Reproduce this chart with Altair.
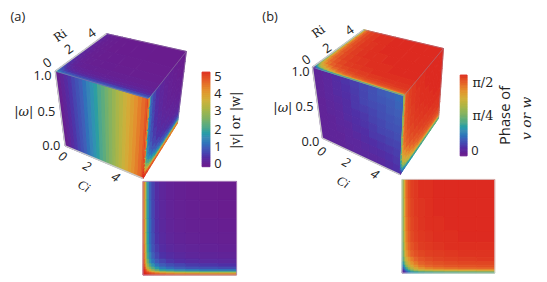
import altair as alt
import pandas as pd

# colour map (value stops on |v| scale and colours)
STOPS = [0, .5, 1, 1.5, 2, 2.5, 3, 3.5, 4, 4.5, 5]
COLORS = ["#6b1a8c", "#4f2fa6", "#3f5fb8", "#3f8bb5", "#4ea78c", "#7fb165",
          "#a9b548", "#d1b03b", "#e3912f", "#e5602a", "#dd2a20"]
PHASE_MAX = 1.5708
PHASE_STOPS = [s * PHASE_MAX / 5 for s in STOPS]

# non-uniform cell edges (fractions of a panel side)
EDGE_INSET = [0, .012, .025, .04, .06, .085, .12, .17, .24, .33, .45, .6, .8, 1]
EDGE_RIGHT_X = [0, .006, .012, .025, .05, .11, .19, .3, .42, .54, .66, .78, .9, 1]
EDGE_RIGHT_Y = [0, .015, .03, .05, .08, .12, .17, .24, .34, .46, .58, .72, .86, 1]
EDGE_TOPB_X = [0, .008, .02, .035, .06, .1, .15, .22, .3, .4, .52, .67, .83, 1]
EDGE_TOPB_Y = [0, .006, .014, .025, .04, .06, .09, .13, .2, .3, .45, .62, .8, 1]
EDGE_TOPA = [0, .02, .05, .09, .14, .2, .3, .45, .65, 1]
EDGE_TEN = [0, .1, .2, .3, .4, .5, .6, .7, .8, .9, 1]

INSET_A = [
 [5,5,5,4.9,4.8,4.7,4.6,4.5,4.4,4.3,4.3,4.2,4.2],
 [5,5,4.9,4.8,4.6,4.4,4.1,3.8,3.6,3.4,3.3,3.2,3.2],
 [5,4.9,4.7,4.4,4.0,3.6,3.2,2.8,2.5,2.3,2.2,2.1,2.1],
 [5,4.8,4.4,3.8,3.2,2.7,2.2,1.8,1.6,1.4,1.3,1.2,1.2],
 [4.9,4.5,3.8,3.1,2.6,2.1,1.7,1.3,1.1,.95,.85,.8,.75],
 [4.8,4.2,3.3,2.6,2.0,1.6,1.2,.95,.8,.7,.6,.55,.5],
 [4.7,3.9,2.9,2.2,1.6,1.2,.9,.7,.55,.45,.4,.35,.32],
 [4.6,3.7,2.7,1.9,1.4,1.0,.7,.52,.42,.34,.28,.25,.22],
 [4.5,3.6,2.5,1.8,1.2,.85,.6,.42,.32,.26,.22,.18,.16],
 [4.4,3.5,2.4,1.7,1.1,.8,.52,.36,.26,.2,.17,.14,.12],
 [4.4,3.5,2.4,1.6,1.1,.75,.48,.32,.22,.17,.13,.11,.09],
 [4.3,3.4,2.3,1.6,1.05,.7,.45,.3,.2,.15,.11,.08,.06],
 [4.3,3.4,2.3,1.55,1.0,.68,.43,.28,.18,.13,.09,.06,.04],
]
TOP_A = [
 [1.6,1.3,1.1,1.0,.95,.9,.9,.95,1.0],
 [1.3,1.0,.85,.75,.7,.65,.65,.7,.7],
 [1.0,.8,.6,.5,.45,.42,.42,.42,.42],
 [.85,.6,.42,.32,.28,.25,.25,.25,.25],
 [.7,.48,.32,.23,.2,.18,.16,.16,.16],
 [.55,.38,.25,.18,.15,.13,.12,.12,.12],
 [.45,.3,.2,.15,.12,.1,.09,.08,.08],
 [.35,.25,.16,.12,.1,.08,.07,.06,.06],
 [.3,.2,.14,.1,.08,.06,.05,.05,.04],
]
LEFT_A = [[.1,.25,.4,.55,.7,.85,1.0,1.2,1.4,1.6,1.8,2.0,2.2,2.4,2.6,2.8,3.0,
           3.2,3.4,3.6,3.8,4.0,4.2,4.4,4.6,4.8]]
EDGE_LEFT_A = [0,.04,.08,.12,.16,.2,.24,.28,.32,.36,.4,.44,.48,.52,.56,.6,.64,
               .68,.72,.76,.8,.84,.88,.92,.96,.98,1]
EDGE_ONE = [0, 1]

INSET_B = [
 [.08,.12,.2,.3,.42,.5,.55,.6,.62,.65,.68,.7,.72],
 [.12,.2,.3,.42,.55,.7,.85,.95,1.0,1.05,1.08,1.1,1.12],
 [.2,.3,.42,.55,.72,.88,1.02,1.12,1.18,1.22,1.25,1.27,1.28],
 [.3,.42,.55,.7,.88,1.02,1.15,1.26,1.32,1.36,1.38,1.4,1.41],
 [.42,.55,.72,.88,1.02,1.14,1.26,1.35,1.4,1.43,1.45,1.46,1.47],
 [.55,.7,.88,1.02,1.14,1.25,1.34,1.41,1.45,1.47,1.49,1.5,1.5],
 [.65,.85,1.02,1.15,1.24,1.33,1.41,1.46,1.49,1.51,1.52,1.53,1.54],
 [.72,.95,1.14,1.26,1.35,1.42,1.47,1.5,1.52,1.53,1.54,1.55,1.55],
 [.75,1.0,1.2,1.32,1.4,1.46,1.5,1.53,1.54,1.55,1.56,1.56,1.56],
 [.78,1.05,1.24,1.36,1.43,1.49,1.52,1.54,1.55,1.56,1.56,1.57,1.57],
 [.8,1.08,1.27,1.38,1.45,1.5,1.53,1.55,1.56,1.56,1.57,1.57,1.57],
 [.82,1.1,1.29,1.4,1.47,1.51,1.54,1.55,1.56,1.57,1.57,1.57,1.57],
 [.85,1.12,1.3,1.41,1.48,1.52,1.54,1.56,1.56,1.57,1.57,1.57,1.57],
]
LEFT_B = [
 [.07,.08,.08,.09,.1,.1,.11,.12,.14,.16],
 [.07,.08,.08,.1,.1,.12,.13,.14,.16,.18],
 [.07,.08,.09,.1,.12,.14,.15,.17,.18,.2],
 [.07,.08,.1,.11,.14,.15,.18,.19,.21,.22],
 [.07,.09,.1,.13,.15,.17,.19,.22,.23,.25],
 [.07,.09,.11,.14,.16,.18,.21,.23,.26,.27],
 [.08,.1,.12,.14,.18,.2,.22,.25,.27,.29],
 [.08,.1,.13,.15,.18,.22,.24,.26,.29,.31],
 [.08,.1,.13,.16,.19,.22,.26,.28,.3,.33],
 [.08,.1,.14,.17,.2,.23,.26,.3,.32,.35],
]

# cube corners in page pixels: A top-left, B back, C right, D front top,
# E front bottom, F left bottom, G right bottom
CUBE_A = dict(A=(56,70), B=(108,32), C=(189,50), D=(151,98), E=(145,179), F=(66,146), G=(180,123))
CUBE_B = dict(A=(317,66), B=(369,28), C=(450,47), D=(410,95), E=(406,175), F=(327,138), G=(445,118))
INSET_BOX_A = dict(bl=(145,277), br=(240,277), tr=(240,182), tl=(145,182))
INSET_BOX_B = dict(bl=(408,275), br=(502,275), tr=(502,180), tl=(408,180))
BAR_BOX_A = dict(bl=(205,167), br=(213,167), tr=(213,71), tl=(205,71))
BAR_BOX_B = dict(bl=(467,156), br=(474,156), tr=(474,74), tl=(467,74))
BAR_STEPS = 48

# text: label, x, y, angle, size, font, style
TEXTS = [
 ("(a)", 18, 15, 0, 13, "Open Sans", "normal"),
 ("(b)", 274, 15, 0, 13, "Open Sans", "normal"),
 ("0", 48, 62, 325, 13, "Open Sans", "normal"),
 ("2", 70, 48, 325, 13, "Open Sans", "normal"),
 ("4", 93, 32, 325, 13, "Open Sans", "normal"),
 ("Ri", 61, 34, 325, 12, "DejaVu Serif", "normal"),
 ("1.0", 43, 75, 0, 13, "Open Sans", "normal"),
 ("0.5", 47, 112, 0, 13, "Open Sans", "normal"),
 ("0.0", 52, 146, 0, 13, "Open Sans", "normal"),
 ("|ω|", 24, 112, 0, 13, "DejaVu Serif", "italic"),
 ("0", 63, 157, 30, 13, "Open Sans", "italic"),
 ("2", 88, 167, 30, 13, "Open Sans", "italic"),
 ("4", 117, 178, 30, 13, "Open Sans", "italic"),
 ("Ci", 85, 187, 30, 13, "Liberation Serif", "italic"),
 ("5", 221, 76, 0, 13, "Open Sans", "normal"),
 ("4", 221, 93, 0, 13, "Open Sans", "normal"),
 ("3", 221, 111, 0, 13, "Open Sans", "normal"),
 ("2", 221, 130, 0, 13, "Open Sans", "normal"),
 ("1", 221, 147, 0, 13, "Open Sans", "normal"),
 ("0", 221, 164, 0, 13, "Open Sans", "normal"),
 ("|v| or |w|", 240, 120, 270, 13, "DejaVu Serif", "normal"),
 ("0", 311, 59, 325, 13, "Open Sans", "normal"),
 ("2", 332, 47, 325, 13, "Open Sans", "normal"),
 ("4", 355, 29, 325, 13, "Open Sans", "normal"),
 ("Ri", 323, 30, 325, 12, "DejaVu Serif", "normal"),
 ("1.0", 305, 71, 0, 13, "Open Sans", "normal"),
 ("0.5", 309, 106, 0, 13, "Open Sans", "normal"),
 ("0.0", 315, 142, 0, 13, "Open Sans", "normal"),
 ("|ω|", 287, 108, 0, 13, "DejaVu Serif", "italic"),
 ("0", 326, 152, 30, 13, "Open Sans", "italic"),
 ("2", 351, 163, 30, 13, "Open Sans", "italic"),
 ("4", 380, 175, 30, 13, "Open Sans", "italic"),
 ("Ci", 348, 183, 30, 13, "Liberation Serif", "italic"),
 ("π/2", 490, 82, 0, 13, "DejaVu Serif", "normal"),
 ("π/4", 490, 116, 0, 13, "DejaVu Serif", "normal"),
 ("0", 482, 151, 0, 13, "Open Sans", "normal"),
 ("Phase of", 513, 115, 270, 15, "Open Sans", "normal"),
 ("v or w", 535, 118, 270, 14, "DejaVu Serif", "italic"),
]


def bilinear(q, u, v):
    """q = (origin, u-end, far, v-end); maps fractions to a quadrilateral."""
    o, a, c, b = q
    return [
        (1-u)*(1-v)*o[i] + u*(1-v)*a[i] + u*v*c[i] + (1-u)*v*b[i]
        for i in (0, 1)
    ]


def cells(table, xe, ye, quad):
    out = []
    # far cells first so the thin cells at the near edges stay on top
    for r in range(len(table) - 1, -1, -1):
        row = table[r]
        for c in range(len(row) - 1, -1, -1):
            ring = [bilinear(quad, xe[c], ye[r]), bilinear(quad, xe[c+1], ye[r]),
                    bilinear(quad, xe[c+1], ye[r+1]), bilinear(quad, xe[c], ye[r+1])]
            ring.append(ring[0])
            out.append({"type": "Feature", "properties": {}, "v": row[c],
                        "geometry": {"type": "Polygon", "coordinates": [ring]}})
    return out


def bar(box, top):
    ye = [i / BAR_STEPS for i in range(BAR_STEPS + 1)]
    table = [[top * (i + .5) / BAR_STEPS] for i in range(BAR_STEPS)]
    return cells(table, EDGE_ONE, ye, (box["bl"], box["br"], box["tr"], box["tl"]))


a, b = CUBE_A, CUBE_B
ia, ib = INSET_BOX_A, INSET_BOX_B
feat_a = (cells(LEFT_A, EDGE_LEFT_A, EDGE_ONE, (a["F"], a["E"], a["D"], a["A"]))
          + cells(TOP_A, EDGE_TOPA, EDGE_TOPA, (a["A"], a["D"], a["C"], a["B"]))
          + cells(INSET_A, EDGE_RIGHT_X, EDGE_RIGHT_Y, (a["E"], a["G"], a["C"], a["D"]))
          + cells(INSET_A, EDGE_INSET, EDGE_INSET, (ia["bl"], ia["br"], ia["tr"], ia["tl"]))
          + bar(BAR_BOX_A, 5))
feat_b = (cells(LEFT_B, EDGE_TEN, EDGE_TEN, (b["F"], b["E"], b["D"], b["A"]))
          + cells(INSET_B, EDGE_TOPB_X, EDGE_TOPB_Y, (b["A"], b["D"], b["C"], b["B"]))
          + cells(INSET_B, EDGE_RIGHT_X, EDGE_RIGHT_Y, (b["E"], b["G"], b["C"], b["D"]))
          + cells(INSET_B, EDGE_INSET, EDGE_INSET, (ib["bl"], ib["br"], ib["tr"], ib["tl"]))
          + bar(BAR_BOX_B, PHASE_MAX))


def heat(features, stops):
    sc = alt.Scale(domain=stops, range=COLORS)
    return alt.Chart(alt.Data(values=features)).mark_geoshape(strokeWidth=1, opacity=1).encode(
        color=alt.Color("v:Q", scale=sc, legend=None),
        stroke=alt.Stroke("v:Q", scale=sc, legend=None),
    ).project(type="identity", scale=1, translate=[-8, -8])


edges = []
for cube in (a, b):
    for p, q in (("A","F"), ("F","E"), ("A","B")):
        edges.append(dict(x=cube[p][0], y=cube[p][1], x2=cube[q][0], y2=cube[q][1], c="#c8c8c8", w=1.4))
    for p, q in (("A","D"), ("D","C"), ("B","C"), ("C","G")):
        edges.append(dict(x=cube[p][0], y=cube[p][1], x2=cube[q][0], y2=cube[q][1], c="#9a8fa5", w=0.5))
for box, col in ((ia, "#b48fc0"), (ib, "#d4d4d4")):
    pts = [box["bl"], box["br"], box["tr"], box["tl"], box["bl"]]
    for p, q in zip(pts, pts[1:]):
        edges.append(dict(x=p[0], y=p[1], x2=q[0], y2=q[1], c=col, w=0.8))

xs = alt.Scale(domain=[8, 547], range=[0, 539])
ys = alt.Scale(domain=[8, 282], range=[0, 274])
edge_layer = alt.Chart(pd.DataFrame(edges)).mark_rule().encode(
    x=alt.X("x:Q", scale=xs, axis=None), y=alt.Y("y:Q", scale=ys, axis=None),
    x2="x2:Q", y2="y2:Q",
    color=alt.Color("c:N", scale=None, legend=None),
    strokeWidth=alt.StrokeWidth("w:Q", scale=None, legend=None),
)

text_layers = []
tdf = pd.DataFrame(TEXTS, columns=["t", "x", "y", "ang", "size", "font", "style"])
for (ang, size, font, style), g in tdf.groupby(["ang", "size", "font", "style"]):
    text_layers.append(
        alt.Chart(g).mark_text(angle=int(ang), fontSize=int(size), font=font, fontStyle=style,
                               color="#222222", align="center", baseline="middle").encode(
            x=alt.X("x:Q", scale=xs, axis=None), y=alt.Y("y:Q", scale=ys, axis=None), text="t:N")
    )

chart = alt.layer(
    heat(feat_a, STOPS), heat(feat_b, PHASE_STOPS), edge_layer, *text_layers
).resolve_scale(color="independent", stroke="independent").properties(
    width=539, height=274, padding=0, autosize=alt.AutoSizeParams(type="none")
).configure_view(stroke=None)

chart.save("out.html", embed_options={"renderer": "svg", "actions": False})
